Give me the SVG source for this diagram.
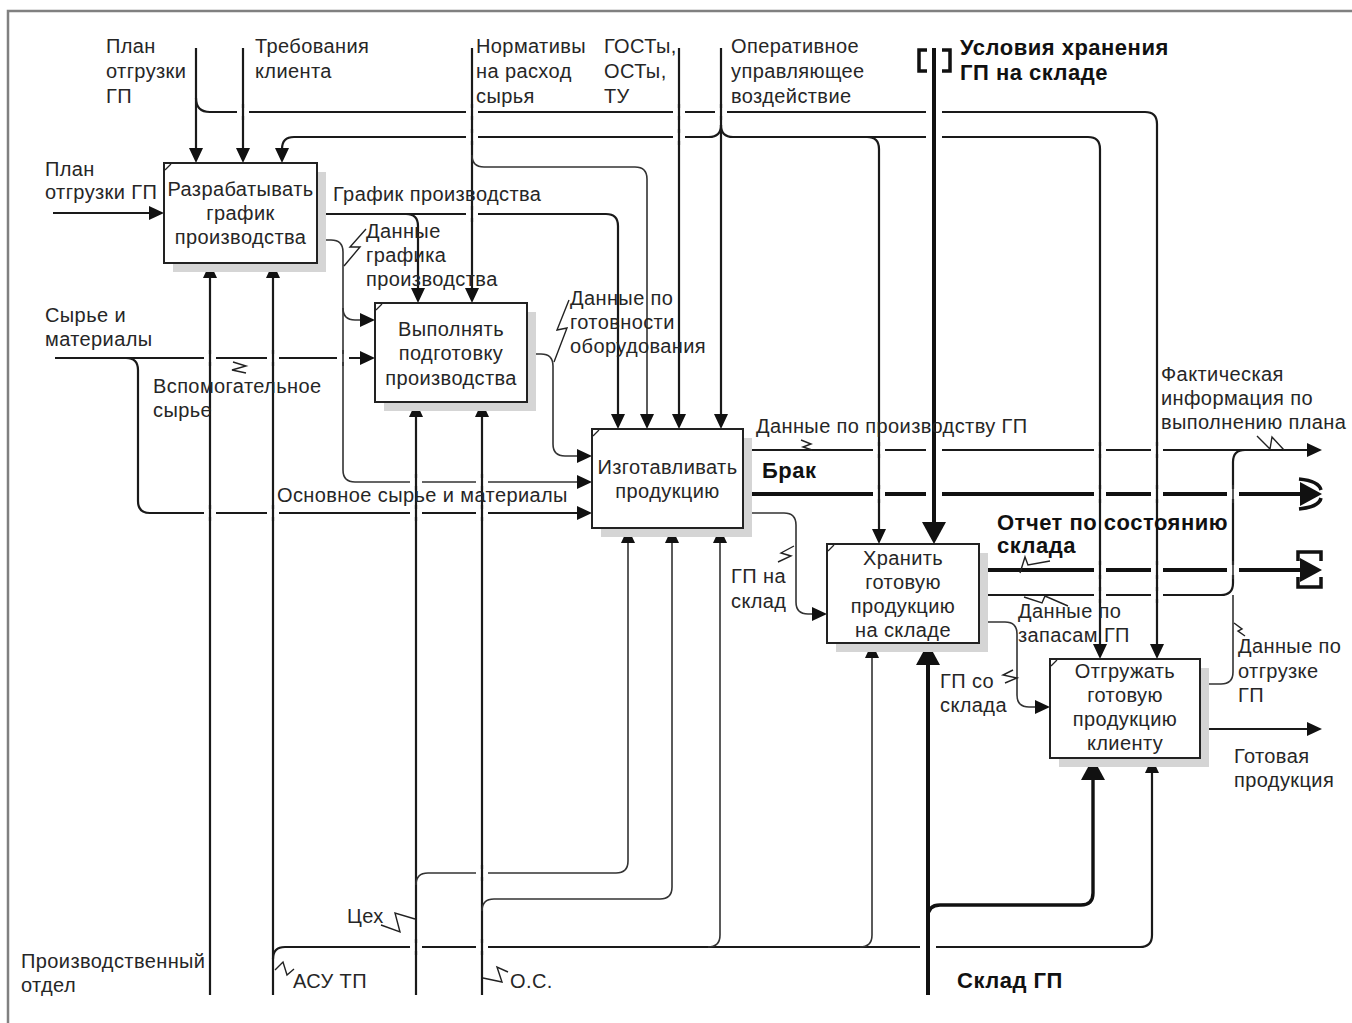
<svg xmlns="http://www.w3.org/2000/svg" width="1352" height="1023" viewBox="0 0 1352 1023">
  <style>
    .ln{fill:none;stroke:#1a1a1a;stroke-width:2.2}
    .th{fill:none;stroke:#333;stroke-width:1.6}
    .bd{fill:none;stroke:#111;stroke-width:4}
    .bm{fill:none;stroke:#111;stroke-width:3.4}
    .zz{fill:none;stroke:#222;stroke-width:1.4}
    .gp{fill:#fff}
    .b{fill:#fff;stroke:#222;stroke-width:2}
    .sh{fill:#d5d5d5}
    .nt{stroke:#222;stroke-width:1.2}
    .sym{fill:none;stroke:#111;stroke-width:3.5}
    text{font-family:"Liberation Sans",Arial,sans-serif;font-size:20px;fill:#262626;letter-spacing:0.4px}
    .c{text-anchor:middle}
    .bt{font-weight:bold;font-size:22px;fill:#111;letter-spacing:0.5px}
  </style>
  <defs>
    <marker id="a" markerUnits="userSpaceOnUse" viewBox="0 0 15 14" markerWidth="15" markerHeight="14" refX="10" refY="7" orient="auto">
      <path d="M0,0 L15,7 L0,14 z" fill="#111"/>
    </marker>
    <marker id="A" markerUnits="userSpaceOnUse" viewBox="0 0 22 24" markerWidth="22" markerHeight="24" refX="14" refY="12" orient="auto">
      <path d="M0,0 L22,12 L0,24 z" fill="#111"/>
    </marker>
  </defs>

  <rect width="1352" height="1023" fill="#fff"/>
  <!-- page frame -->
  <path d="M8,1023 V11 H1352" fill="none" stroke="#808080" stroke-width="2.5"/>

  <!-- connectors -->
  <g id="connectors">
    <!-- controls from the top -->
    <path class="ln" d="M196,48 V158" marker-end="url(#a)"/>
    <path class="ln" d="M196,98 Q196,112 210,112 H1145 Q1157,112 1157,124 V654" marker-end="url(#a)"/>
    <path class="ln" d="M243,48 V158" marker-end="url(#a)"/>
    <path class="ln" d="M472,48 V298" marker-end="url(#a)"/>
    <path class="th" d="M472,155 Q472,167 484,167 H635 Q647,167 647,179 V424" marker-end="url(#a)"/>
    <path class="ln" d="M679,48 V424" marker-end="url(#a)"/>
    <path class="ln" d="M721,48 V424" marker-end="url(#a)"/>
    <path class="ln" d="M721,125 Q721,137 709,137 H294 Q282,137 282,149 V158" marker-end="url(#a)"/>
    <path class="ln" d="M721,125 Q721,137 733,137 H1088 Q1100,137 1100,149 V654" marker-end="url(#a)"/>
    <path class="ln" d="M867,137 Q879,137 879,149 V539" marker-end="url(#a)"/>
    <path class="bd" d="M934,48 V536" marker-end="url(#A)"/>

    <!-- outputs of A1 -->
    <path class="ln" d="M317,214 H606 Q618,214 618,226 V424" marker-end="url(#a)"/>
    <path class="ln" d="M406,214 Q418,214 418,226 V298" marker-end="url(#a)"/>
    <path class="th" d="M317,240 H331 Q343,240 343,252 V308 Q343,320 355,320 H370" marker-end="url(#a)"/>
    <path class="th" d="M343,308 V470 Q343,482 355,482 H587" marker-end="url(#a)"/>

    <!-- inputs from the left -->
    <path class="ln" d="M53,213 H159" marker-end="url(#a)"/>
    <path class="ln" d="M55,358 H370" marker-end="url(#a)"/>
    <path class="ln" d="M126,358 Q138,358 138,370 V501 Q138,513 150,513 H587" marker-end="url(#a)"/>

    <!-- output of A2 -->
    <path class="th" d="M527,354 H541 Q553,354 553,366 V444 Q553,456 565,456 H587" marker-end="url(#a)"/>

    <!-- outputs of A3 -->
    <path class="ln" d="M743,450 H1317" marker-end="url(#a)"/>
    <path class="bd" d="M743,494 H1314" marker-end="url(#A)"/>
    <path class="th" d="M743,513 H784 Q796,513 796,525 V602 Q796,614 808,614 H822" marker-end="url(#a)"/>

    <!-- outputs of A4 -->
    <path class="bd" d="M979,570 H1314" marker-end="url(#A)"/>
    <path class="ln" d="M979,595 H1221 Q1233,595 1233,583 V462 Q1233,450 1245,450"/>
    <path class="th" d="M979,622 H1005 Q1017,622 1017,634 V695 Q1017,707 1029,707 H1045" marker-end="url(#a)"/>

    <!-- outputs of A5 -->
    <path class="th" d="M1200,684 H1221 Q1233,684 1233,672 V595"/>
    <path class="ln" d="M1200,729 H1317" marker-end="url(#a)"/>

    <!-- mechanisms from the bottom -->
    <path class="ln" d="M210,995 V268" marker-end="url(#a)"/>
    <path class="ln" d="M273,995 V268" marker-end="url(#a)"/>
    <path class="ln" d="M273,959 Q273,947 285,947 H1140 Q1152,947 1152,935 V763" marker-end="url(#a)"/>
    <path class="th" d="M708,947 Q720,947 720,935 V533" marker-end="url(#a)"/>
    <path class="th" d="M860,947 Q872,947 872,935 V648" marker-end="url(#a)"/>
    <path class="ln" d="M416,995 V407" marker-end="url(#a)"/>
    <path class="th" d="M416,885 Q416,873 428,873 H616 Q628,873 628,861 V533" marker-end="url(#a)"/>
    <path class="ln" d="M482,995 V407" marker-end="url(#a)"/>
    <path class="th" d="M482,911 Q482,899 494,899 H660 Q672,899 672,887 V533" marker-end="url(#a)"/>
    <path class="bd" d="M928,995 V651" marker-end="url(#A)"/>
    <path class="bm" d="M928,917 Q928,905 940,905 H1081 Q1093,905 1093,893 V766" marker-end="url(#A)"/>

    <!-- line crossings: the horizontal run is broken, the vertical one passes -->
    <g id="crossings">
      <rect class="gp" x="237" y="108" width="12" height="8"/><path class="ln" d="M243,104 v16"/>
      <rect class="gp" x="466" y="108" width="12" height="8"/><path class="ln" d="M472,104 v16"/>
      <rect class="gp" x="673" y="108" width="12" height="8"/><path class="ln" d="M679,104 v16"/>
      <rect class="gp" x="715" y="108" width="12" height="8"/><path class="ln" d="M721,104 v16"/>
      <rect class="gp" x="926" y="108" width="16" height="8"/><path class="bd" d="M934,104 v16"/>

      <rect class="gp" x="466" y="133" width="12" height="8"/><path class="ln" d="M472,129 v16"/>
      <rect class="gp" x="673" y="133" width="12" height="8"/><path class="ln" d="M679,129 v16"/>
      <rect class="gp" x="926" y="133" width="16" height="8"/><path class="bd" d="M934,129 v16"/>

      <rect class="gp" x="466" y="210" width="12" height="8"/><path class="ln" d="M472,206 v16"/>

      <rect class="gp" x="204" y="354" width="12" height="8"/><path class="ln" d="M210,350 v16"/>
      <rect class="gp" x="267" y="354" width="12" height="8"/><path class="ln" d="M273,350 v16"/>
      <rect class="gp" x="337" y="354" width="12" height="8"/><path class="th" d="M343,350 v16"/>

      <rect class="gp" x="204" y="509" width="12" height="8"/><path class="ln" d="M210,505 v16"/>
      <rect class="gp" x="267" y="509" width="12" height="8"/><path class="ln" d="M273,505 v16"/>
      <rect class="gp" x="410" y="509" width="12" height="8"/><path class="ln" d="M416,505 v16"/>
      <rect class="gp" x="476" y="509" width="12" height="8"/><path class="ln" d="M482,505 v16"/>

      <rect class="gp" x="410" y="478" width="12" height="8"/><path class="ln" d="M416,474 v16"/>
      <rect class="gp" x="476" y="478" width="12" height="8"/><path class="ln" d="M482,474 v16"/>

      <rect class="gp" x="873" y="446" width="12" height="8"/><path class="ln" d="M879,442 v16"/>
      <rect class="gp" x="926" y="446" width="16" height="8"/><path class="bd" d="M934,442 v16"/>
      <rect class="gp" x="1094" y="446" width="12" height="8"/><path class="ln" d="M1100,442 v16"/>
      <rect class="gp" x="1151" y="446" width="12" height="8"/><path class="ln" d="M1157,442 v16"/>

      <rect class="gp" x="873" y="489" width="12" height="10"/><path class="ln" d="M879,485 v18"/>
      <rect class="gp" x="926" y="489" width="16" height="10"/><path class="bd" d="M934,485 v18"/>
      <rect class="gp" x="1094" y="489" width="12" height="10"/><path class="ln" d="M1100,485 v18"/>
      <rect class="gp" x="1151" y="489" width="12" height="10"/><path class="ln" d="M1157,485 v18"/>
      <rect class="gp" x="1227" y="489" width="12" height="10"/><path class="th" d="M1233,485 v18"/>

      <rect class="gp" x="1094" y="565" width="12" height="10"/><path class="ln" d="M1100,561 v18"/>
      <rect class="gp" x="1151" y="565" width="12" height="10"/><path class="ln" d="M1157,561 v18"/>
      <rect class="gp" x="1227" y="565" width="12" height="10"/><path class="th" d="M1233,561 v18"/>

      <rect class="gp" x="1094" y="591" width="12" height="8"/><path class="ln" d="M1100,587 v16"/>
      <rect class="gp" x="1151" y="591" width="12" height="8"/><path class="ln" d="M1157,587 v16"/>

      <rect class="gp" x="410" y="943" width="12" height="8"/><path class="ln" d="M416,939 v16"/>
      <rect class="gp" x="476" y="943" width="12" height="8"/><path class="ln" d="M482,939 v16"/>
      <rect class="gp" x="920" y="943" width="16" height="8"/><path class="bd" d="M928,939 v16"/>

      <rect class="gp" x="476" y="869" width="12" height="8"/><path class="ln" d="M482,865 v16"/>
    </g>

    <!-- tunnel marks -->
    <path class="sym" d="M927,50 H919 V71 H927"/>
    <path class="sym" d="M942,50 H950 V71 H942"/>
    <path class="sym" d="M1299,479 Q1319,481 1321,490"/>
    <path class="sym" d="M1299,509 Q1319,507 1321,498"/>
    <path class="sym" d="M1298,561 V552 H1321 V561"/>
    <path class="sym" d="M1298,577 V587 H1321 V577"/>

    <!-- label leaders -->
    <path class="zz" d="M233,362 L246,366 L232,370 L246,373"/>
    <path class="zz" d="M344,266 L360,247 L350,247 L366,229"/>
    <path class="zz" d="M569,300 L557,330 L567,328 L554,362"/>
    <path class="zz" d="M801,440 L811,444 L803,447 L812,450"/>
    <path class="zz" d="M1257,436 L1270,449 L1272,437 L1284,450"/>
    <path class="zz" d="M794,546 L781,553 L791,556 L778,562"/>
    <path class="zz" d="M1020,573 L1025,557 L1028,565 L1050,561"/>
    <path class="zz" d="M1024,597 L1042,603 L1045,596 L1068,606"/>
    <path class="zz" d="M1234,623 L1242,629 L1238,631 L1245,636"/>
    <path class="zz" d="M1013,670 L1003,675 L1017,678 L1005,683"/>
    <path class="zz" d="M381,925 L400,932 L395,913 L415,919"/>
    <path class="zz" d="M275,970 L283,962 L287,975 L294,969"/>
    <path class="zz" d="M483,978 L502,982 L497,967 L508,972"/>
  </g>

  <!-- activity boxes -->
  <g id="A1">
    <rect class="sh" x="173" y="172" width="153" height="100"/>
    <rect class="b" x="164" y="163" width="153" height="100"/>
    <path class="nt" d="M165,170 L171,164"/>
    <text class="c" x="240.5" y="196">Разрабатывать</text>
    <text class="c" x="240.5" y="220">график</text>
    <text class="c" x="240.5" y="244">производства</text>
  </g>
  <g id="A2">
    <rect class="sh" x="384" y="312" width="152" height="99"/>
    <rect class="b" x="375" y="303" width="152" height="99"/>
    <path class="nt" d="M376,310 L382,304"/>
    <text class="c" x="451" y="336">Выполнять</text>
    <text class="c" x="451" y="360">подготовку</text>
    <text class="c" x="451" y="385">производства</text>
  </g>
  <g id="A3">
    <rect class="sh" x="601" y="438" width="151" height="99"/>
    <rect class="b" x="592" y="429" width="151" height="99"/>
    <path class="nt" d="M593,436 L599,430"/>
    <text class="c" x="667.5" y="474">Изготавливать</text>
    <text class="c" x="667.5" y="498">продукцию</text>
  </g>
  <g id="A4">
    <rect class="sh" x="836" y="553" width="152" height="99"/>
    <rect class="b" x="827" y="544" width="152" height="99"/>
    <path class="nt" d="M828,551 L834,545"/>
    <text class="c" x="903" y="565">Хранить</text>
    <text class="c" x="903" y="589">готовую</text>
    <text class="c" x="903" y="613">продукцию</text>
    <text class="c" x="903" y="637">на складе</text>
  </g>
  <g id="A5">
    <rect class="sh" x="1059" y="668" width="150" height="99"/>
    <rect class="b" x="1050" y="659" width="150" height="99"/>
    <path class="nt" d="M1051,666 L1057,660"/>
    <text class="c" x="1125" y="678">Отгружать</text>
    <text class="c" x="1125" y="702">готовую</text>
    <text class="c" x="1125" y="726">продукцию</text>
    <text class="c" x="1125" y="750">клиенту</text>
  </g>

  <!-- arrow labels -->
  <g id="labels">
    <text x="106" y="53">План</text>
    <text x="106" y="78">отгрузки</text>
    <text x="106" y="103">ГП</text>
    <text x="255" y="53">Требования</text>
    <text x="255" y="78">клиента</text>
    <text x="476" y="53">Нормативы</text>
    <text x="476" y="78">на расход</text>
    <text x="476" y="103">сырья</text>
    <text x="604" y="53">ГОСТы,</text>
    <text x="604" y="78">ОСТы,</text>
    <text x="604" y="103">ТУ</text>
    <text x="731" y="53">Оперативное</text>
    <text x="731" y="78">управляющее</text>
    <text x="731" y="103">воздействие</text>
    <text class="bt" x="960" y="55">Условия хранения</text>
    <text class="bt" x="960" y="80">ГП на складе</text>

    <text x="45" y="176">План</text>
    <text x="45" y="199">отгрузки ГП</text>
    <text x="45" y="322">Сырье и</text>
    <text x="45" y="346">материалы</text>
    <text x="153" y="393">Вспомогательное</text>
    <text x="153" y="417">сырье</text>
    <text x="277" y="502">Основное сырье и материалы</text>
    <text x="333" y="201">График производства</text>
    <text x="366" y="238">Данные</text>
    <text x="366" y="262">графика</text>
    <text x="366" y="286">производства</text>
    <text x="570" y="305">Данные по</text>
    <text x="570" y="329">готовности</text>
    <text x="570" y="353">оборудования</text>

    <text x="756" y="433">Данные по производству ГП</text>
    <text class="bt" x="762" y="478">Брак</text>
    <text x="731" y="583">ГП на</text>
    <text x="731" y="608">склад</text>
    <text x="1161" y="381">Фактическая</text>
    <text x="1161" y="405">информация по</text>
    <text x="1161" y="429">выполнению плана</text>
    <text class="bt" x="997" y="530">Отчет по состоянию</text>
    <text class="bt" x="997" y="553">склада</text>
    <text x="1018" y="618">Данные по</text>
    <text x="1018" y="642">запасам ГП</text>
    <text x="1238" y="653">Данные по</text>
    <text x="1238" y="678">отгрузке</text>
    <text x="1238" y="702">ГП</text>
    <text x="940" y="688">ГП со</text>
    <text x="940" y="712">склада</text>
    <text x="1234" y="763">Готовая</text>
    <text x="1234" y="787">продукция</text>

    <text x="21" y="968">Производственный</text>
    <text x="21" y="992">отдел</text>
    <text x="293" y="988">АСУ ТП</text>
    <text x="347" y="923">Цех</text>
    <text x="510" y="988">О.С.</text>
    <text class="bt" x="957" y="988">Склад ГП</text>
  </g>
</svg>
